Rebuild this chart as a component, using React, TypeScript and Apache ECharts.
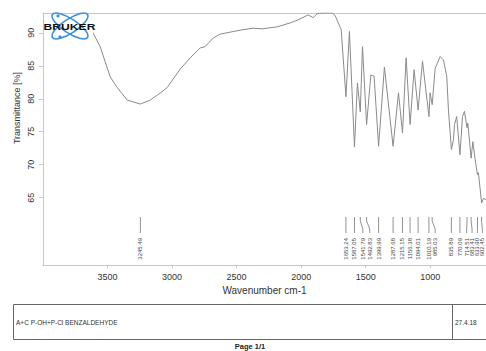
import React, { useEffect, useRef } from "react";
import * as echarts from "echarts";

const FONT = "Liberation Sans, Arial, sans-serif";

// spectrum (wavenumber cm-1, transmittance %)
const wavenumbers = [
  3998, 3900, 3800, 3700, 3634, 3557, 3479, 3425, 3348, 3246, 3169, 3069, 3038, 2937, 2860, 2782, 2744,
  2682, 2627, 2550, 2473, 2372, 2302, 2186, 2085, 2031, 1946, 1907, 1876, 1830, 1760, 1736, 1713, 1690,
  1653, 1626, 1587, 1564, 1542, 1525, 1493, 1460, 1435, 1400, 1355, 1288, 1246, 1215, 1187, 1156, 1125,
  1094, 1060, 1010, 1001, 985, 962, 923, 898, 872, 859, 836, 820, 812, 795, 770, 750, 735, 715, 709, 683,
  670, 652, 634, 627, 602, 588, 568,
];
const transmittance = [
  91.8, 91.9, 91.8, 91.5, 90.8, 87.9, 83.3, 81.7, 79.8, 79.2, 79.8, 81.2, 81.7, 84.5, 86.2, 87.7, 87.9,
  89.2, 89.8, 90.1, 90.4, 90.7, 90.6, 90.9, 91.5, 91.9, 92.7, 92.3, 92.9, 93.0, 93.0, 92.6, 91.5, 90.5,
  80.3, 90.2, 72.7, 82.4, 78.0, 87.9, 76.1, 83.6, 83.4, 72.8, 84.8, 72.8, 80.9, 74.8, 86.2, 76.1, 84.4,
  78.3, 85.7, 77.3, 80.9, 79.1, 84.6, 86.4, 85.9, 83.4, 78.3, 72.3, 73.8, 76.1, 77.3, 71.5, 77.3, 78.1,
  75.6, 76.3, 71.0, 73.5, 70.8, 68.5, 68.8, 64.2, 64.9, 64.7,
];

// peak picking labels
const peaks = [
  3245.49, 1653.24, 1587.05, 1541.79, 1492.83, 1399.99, 1287.68, 1215.15, 1156.38, 1094.01, 1010.19,
  985.03, 835.89, 770.09, 714.51, 683.41, 633.9, 602.45,
];
// where each peak's text sits along the axis (spread where crowded)
const peakLabelAt = [
  3245.49, 1653.24, 1587.05, 1522, 1469, 1399.99, 1287.68, 1215.15, 1156.38, 1094.01, 1010.19, 962,
  835.89, 770.09, 718, 676, 634, 596,
];

const xTicks = [3500, 3000, 2500, 2000, 1500, 1000];
const yTicks = [65, 70, 75, 80, 85, 90];

const sampleName = "A+C P-OH+P-Cl BENZALDEHYDE";
const sampleDate = "27.4.18";

export default function App() {
  const ref = useRef<HTMLDivElement>(null);

  useEffect(() => {
    document.body.style.margin = "0";
    if (!ref.current) return;
    const chart = echarts.init(ref.current, null, { renderer: "svg" });
    const axisColor = "#c8c8c8";

    const option: any = {
      animation: false,
      backgroundColor: "#ffffff",
      grid: { left: 43, right: 0, top: 13, bottom: 86, containLabel: false },
      xAxis: [
        {
          type: "value",
          inverse: true,
          min: 568,
          max: 4000,
          name: "Wavenumber cm-1",
          nameLocation: "middle",
          nameGap: 20,
          nameTextStyle: { fontSize: 10, color: "#333", fontFamily: FONT },
          axisLine: { show: true, lineStyle: { color: axisColor, width: 1 } },
          axisTick: { show: true, length: 3, lineStyle: { color: axisColor }, customValues: xTicks },
          axisLabel: {
            customValues: xTicks,
            formatter: (v: number) => String(v),
            margin: 7,
            fontSize: 9,
            color: "#333",
            fontFamily: FONT,
          },
          splitLine: { show: false },
        },
        {
          type: "value",
          position: "top",
          inverse: true,
          min: 568,
          max: 4000,
          axisLine: { show: true, lineStyle: { color: axisColor, width: 1 } },
          axisTick: { show: false },
          axisLabel: { show: false },
          splitLine: { show: false },
        },
      ],
      yAxis: {
        type: "value",
        min: 54.8,
        max: 93,
        axisLine: { show: true, lineStyle: { color: axisColor, width: 1 } },
        axisTick: { show: true, length: 4, lineStyle: { color: axisColor }, customValues: yTicks },
        axisLabel: {
          customValues: yTicks,
          formatter: (v: number) => String(v),
          rotate: 90,
          margin: 8,
          fontSize: 9,
          color: "#333",
          fontFamily: FONT,
        },
        splitLine: { show: false },
      },
      series: [
        {
          type: "line",
          xAxisIndex: 0,
          data: wavenumbers.map((w, i) => [w, transmittance[i]]),
          showSymbol: false,
          symbol: "none",
          lineStyle: { color: "#8a8a8a", width: 1 },
          z: 2,
        },
        {
          type: "custom",
          xAxisIndex: 0,
          coordinateSystem: "cartesian2d",
          encode: { x: 0, y: 1 },
          data: peaks.map((p, i) => [p, 60, peakLabelAt[i]]),
          renderItem: (params: any, api: any) => {
            const cs = params.coordSys;
            const bottom = cs.y + cs.height;
            const x1 = api.coord([api.value(0), 60])[0];
            const x2 = api.coord([api.value(2), 60])[0];
            const idx = params.dataIndex;
            return {
              type: "group",
              children: [
                {
                  type: "polyline",
                  shape: {
                    points: [
                      [x1, bottom - 48],
                      [x1, bottom - 44],
                      [x2, bottom - 36],
                      [x2, bottom - 32],
                    ],
                  },
                  style: { stroke: "#777", lineWidth: 0.8, fill: "none" },
                },
                {
                  type: "text",
                  x: x2,
                  y: bottom - 27,
                  rotation: Math.PI / 2,
                  style: {
                    text: peaks[idx].toFixed(2),
                    fontSize: 6,
                    fontFamily: FONT,
                    fill: "#444",
                    align: "right",
                    verticalAlign: "middle",
                  },
                },
              ],
            };
          },
          z: 3,
        },
      ],
      graphic: [
        // logo backdrop and Bruker logo
        { type: "rect", z: 100, shape: { x: 44, y: 14, width: 49, height: 26 }, style: { fill: "#fff" } },
        {
          type: "ellipse",
          z: 101,
          x: 70,
          y: 26,
          rotation: 0.58,
          shape: { cx: 0, cy: 0, rx: 21, ry: 7 },
          style: { fill: "none", stroke: "#3a8fdc", lineWidth: 1.6 },
        },
        {
          type: "ellipse",
          z: 101,
          x: 70,
          y: 26,
          rotation: -0.58,
          shape: { cx: 0, cy: 0, rx: 21, ry: 7 },
          style: { fill: "none", stroke: "#3a8fdc", lineWidth: 1.6 },
        },
        { type: "circle", z: 101, shape: { cx: 58, cy: 16, r: 1.6 }, style: { fill: "#3a8fdc" } },
        { type: "circle", z: 101, shape: { cx: 60, cy: 37, r: 1.6 }, style: { fill: "#3a8fdc" } },
        {
          type: "text",
          z: 102,
          x: 43.5,
          y: 26.5,
          scaleX: 1.35,
          style: { text: "BRUKER", fontSize: 9, fontWeight: "bold", fontFamily: FONT, fill: "#111", verticalAlign: "middle" },
        },
        // y axis name
        {
          type: "text",
          z: 100,
          x: 17,
          y: 108,
          rotation: Math.PI / 2,
          style: { text: "Transmittance [%]", fontSize: 9, fontFamily: FONT, fill: "#333", align: "center", verticalAlign: "middle" },
        },
        // bottom info box
        {
          type: "rect",
          z: 100,
          shape: { x: 13.5, y: 304.5, width: 480, height: 35 },
          style: { fill: "none", stroke: "#666", lineWidth: 1 },
        },
        {
          type: "line",
          z: 100,
          shape: { x1: 452.5, y1: 304.5, x2: 452.5, y2: 339.5 },
          style: { stroke: "#666", lineWidth: 1 },
        },
        {
          type: "text",
          z: 100,
          x: 16,
          y: 322,
          style: { text: sampleName, fontSize: 6.5, fontFamily: FONT, fill: "#333", verticalAlign: "middle" },
        },
        {
          type: "text",
          z: 100,
          x: 455,
          y: 322,
          style: { text: sampleDate, fontSize: 6.5, fontFamily: FONT, fill: "#333", verticalAlign: "middle" },
        },
        {
          type: "text",
          z: 100,
          x: 250,
          y: 346.5,
          style: { text: "Page 1/1", fontSize: 7.5, fontWeight: "bold", fontFamily: FONT, fill: "#222", align: "center", verticalAlign: "middle" },
        },
      ],
    };

    chart.setOption(option);
    return () => chart.dispose();
  }, []);

  return <div ref={ref} style={{ width: 486, height: 351 }} />;
}
